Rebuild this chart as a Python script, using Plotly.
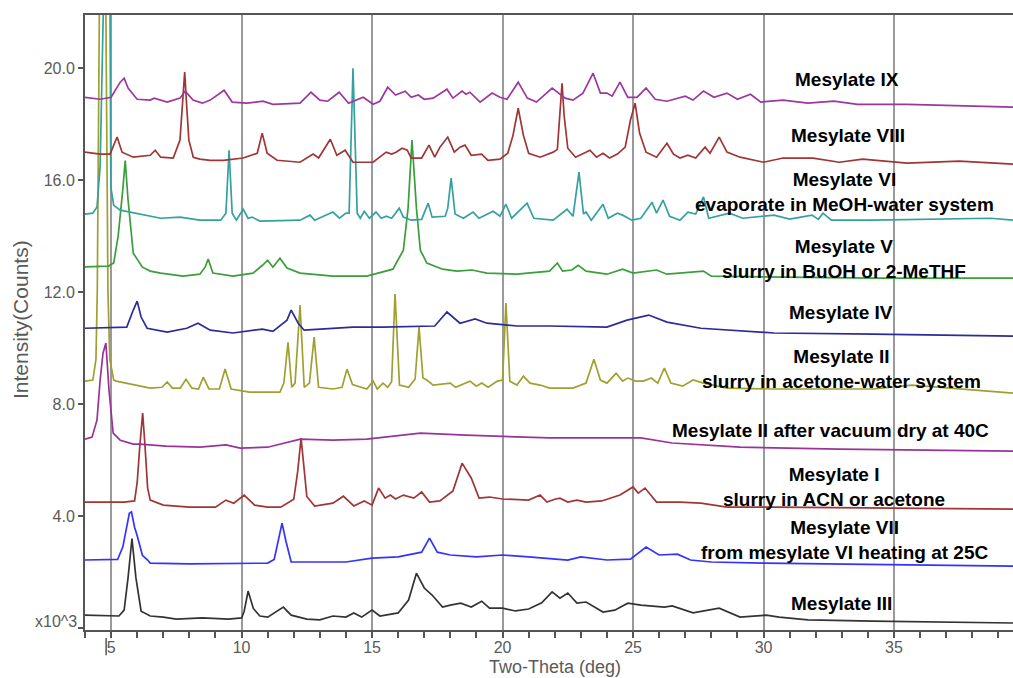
import plotly.graph_objects as go

# ---- data: key vertices (2-theta in deg, intensity in 10^3 counts)
iii_x = [4.0, 5.3, 5.5, 5.65, 5.8, 5.95, 6.15, 6.5, 7.0, 7.5, 8.5, 9.5, 10.0, 10.1, 10.25, 10.45, 10.7, 11.0,
         11.6, 11.9, 12.5, 13.0, 13.5, 14.0, 14.3, 14.6, 15.0, 15.3, 16.0, 16.4, 16.7, 17.0, 17.3, 17.7, 18.0,
         18.4, 18.8, 19.2, 19.5, 20.0, 20.5, 21.0, 21.5, 21.9, 22.2, 22.5, 22.85, 23.2, 23.85, 24.3, 24.8, 25.3,
         26.2, 26.5, 27.3, 28.3, 29.1, 30.1, 30.6, 31.7, 34.2, 39.56]
iii_y = [0.46, 0.43, 0.64, 1.8, 3.2, 1.8, 0.6, 0.43, 0.39, 0.32, 0.36, 0.32, 0.36, 0.6, 1.32, 0.7, 0.43, 0.39,
         0.75, 0.46, 0.32, 0.29, 0.43, 0.39, 0.54, 0.39, 0.64, 0.43, 0.54, 1.0, 1.96, 1.43, 1.18, 0.75, 0.82,
         0.89, 0.75, 0.96, 0.71, 0.71, 0.61, 0.68, 0.9, 1.29, 1.07, 1.25, 0.89, 0.93, 0.57, 0.64, 0.89, 0.82,
         0.75, 0.79, 0.54, 0.71, 0.39, 0.46, 0.39, 0.29, 0.25, 0.18]

vii_x = [4.0, 5.25, 5.45, 5.55, 5.7, 5.78, 5.9, 6.0, 6.2, 6.4, 6.5, 8.0, 10.0, 11.0, 11.25, 11.4, 11.55, 11.7,
         11.9, 12.5, 14.0, 15.0, 16.0, 16.9, 17.2, 17.5, 18.0, 19.0, 20.0, 21.0, 22.5, 23.0, 24.0, 24.9, 25.5,
         26.0, 26.7, 27.2, 28.0, 30.0, 33.0, 39.56]
vii_y = [2.43, 2.45, 2.9, 3.4, 4.1, 4.15, 3.6, 3.3, 2.6, 2.43, 2.32, 2.29, 2.32, 2.32, 2.45, 3.1, 3.75, 3.1,
         2.36, 2.36, 2.36, 2.5, 2.54, 2.71, 3.21, 2.71, 2.61, 2.54, 2.61, 2.54, 2.43, 2.54, 2.43, 2.46, 2.89,
         2.61, 2.64, 2.43, 2.36, 2.32, 2.29, 2.21]

i_x = [4.0, 5.5, 5.9, 6.0, 6.1, 6.21, 6.3, 6.4, 6.5, 6.8, 7.0, 8.0, 9.0, 9.4, 9.7, 10.1, 10.5, 11.0, 11.5,
       12.0, 12.15, 12.28, 12.4, 12.5, 12.8, 13.5, 13.9, 14.3, 14.7, 15.0, 15.25, 15.5, 15.7, 15.9, 16.2, 16.6,
       16.9, 17.2, 17.6, 18.1, 18.45, 18.8, 19.1, 19.5, 20.0, 21.0, 21.44, 21.7, 22.0, 22.2, 22.5, 22.85, 23.2,
       23.8, 24.5, 25.0, 25.2, 25.46, 25.9, 26.8, 27.6, 28.6, 30.4, 34.2, 39.56]
i_y = [4.5, 4.5, 4.54, 5.2, 6.5, 7.68, 6.5, 5.0, 4.57, 4.46, 4.39, 4.32, 4.32, 4.57, 4.46, 4.75, 4.39, 4.32, 4.32,
       4.6, 5.6, 6.79, 5.6, 4.7, 4.36, 4.46, 4.71, 4.36, 4.54, 4.39, 5.0, 4.64, 4.75, 4.61, 4.75, 4.64,
       4.86, 4.5, 4.54, 4.9, 5.89, 5.36, 4.64, 4.68, 4.61, 4.57, 4.75, 4.5, 4.6, 4.64, 4.5, 4.57, 4.5,
       4.54, 4.75, 5.04, 4.82, 5.0, 4.5, 4.5, 4.46, 4.32, 4.32, 4.29, 4.25]

iivac_x = [4.0, 4.27, 4.46, 4.58, 4.69, 4.8, 4.92, 5.08, 5.35, 5.85, 6.1, 7.1, 8.4, 9.4, 9.95, 11.0, 12.25, 13.5,
           14.8, 16.1, 16.85, 18.6, 19.9, 21.8, 25.3, 26.5, 29.1, 32.9, 39.56]
iivac_y = [6.75, 6.82, 7.43, 8.86, 9.82, 10.18, 8.5, 6.96, 6.71, 6.57, 6.57, 6.5, 6.46, 6.54, 6.43, 6.46, 6.75, 6.71,
           6.75, 6.89, 6.96, 6.89, 6.86, 6.79, 6.79, 6.61, 6.46, 6.39, 6.32]

ii_x = [4.0, 4.3, 4.42, 4.47, 4.55, 4.68, 4.8, 4.88, 4.95, 5.1, 5.2, 6.5, 6.95, 7.15, 7.35, 7.65, 7.87, 8.1, 8.35,
        8.53, 8.75, 9.15, 9.37, 9.6, 10.3, 11.47, 11.62, 11.78, 11.92, 12.05, 12.24, 12.4, 12.6, 12.78, 12.95,
        13.5, 13.85, 14.04, 14.25, 14.8, 15.04, 15.2, 15.42, 15.6, 15.75, 15.88, 16.05, 16.4, 16.65, 16.8,
        16.95, 17.1, 17.34, 18.0, 18.2, 18.75, 19.0, 19.2, 19.45, 19.8, 20.0, 20.13, 20.28, 20.55, 20.8, 21.05,
        21.44, 21.8, 22.7, 23.2, 23.5, 23.75, 24.0, 24.35, 24.6, 24.8, 25.1, 25.4, 25.7, 25.95, 26.2, 26.45,
        26.9, 27.3, 27.7, 28.6, 30.4, 34.2, 35.7, 37.3, 39.56]
ii_y = [8.82, 8.86, 9.6, 12.0, 22.0, 40.0, 22.0, 12.0, 9.6, 8.86, 8.82, 8.57, 8.6, 8.79, 8.57, 8.57, 8.89, 8.57, 8.54,
        8.96, 8.54, 8.54, 9.25, 8.54, 8.43, 8.43, 8.75, 10.21, 8.6, 8.75, 11.54, 8.6, 8.75, 10.39, 8.6,
        8.54, 8.6, 9.25, 8.7, 8.54, 8.82, 8.54, 8.75, 8.6, 8.8, 11.93, 8.68, 8.6, 8.9, 10.75,
        8.93, 8.86, 8.68, 8.75, 8.6, 8.82, 8.64, 8.75, 8.6, 8.82, 8.86, 11.61, 8.82, 8.68, 9.0, 8.75,
        8.68, 8.57, 8.57, 8.75, 9.6, 8.86, 8.75, 9.1, 8.82, 8.93, 8.82, 8.82, 8.93, 8.75, 9.29, 8.75,
        8.64, 8.86, 8.75, 8.57, 8.54, 8.54, 8.68, 8.57, 8.39]

iv_x = [4.0, 5.6, 5.85, 6.0, 6.15, 6.38, 7.15, 7.9, 8.33, 8.8, 9.67, 10.8, 11.2, 11.74, 11.9, 12.17, 12.4, 13.5,
        14.27, 15.4, 16.7, 17.4, 17.87, 18.37, 18.95, 19.4, 20.56, 21.8, 24.0, 24.77, 25.6, 26.3, 27.6, 30.4,
        34.2, 39.56]
iv_y = [10.71, 10.75, 11.36, 11.68, 11.11, 10.71, 10.57, 10.71, 10.89, 10.64, 10.54, 10.68, 10.6, 11.0, 11.36,
        10.89, 10.64, 10.71, 10.75, 10.75, 10.79, 10.79, 11.29, 10.89, 11.04, 10.89, 10.79, 10.79, 10.75, 11.0,
        11.18, 10.93, 10.71, 10.54, 10.5, 10.43]

v_x = [4.0, 4.9, 5.1, 5.27, 5.45, 5.54, 5.65, 5.85, 6.2, 6.5, 6.9, 7.76, 8.4, 8.6, 8.72, 8.9, 9.67, 10.44, 10.8,
       11.0, 11.2, 11.47, 11.74, 12.24, 13.5, 14.8, 15.8, 16.2, 16.38, 16.53, 16.7, 16.85, 17.1, 17.7, 18.25,
       18.83, 19.4, 20.55, 21.8, 22.1, 22.3, 22.65, 22.9, 23.2, 24.0, 24.6, 25.0, 25.9, 26.3, 27.7, 28.0, 30.4,
       34.2, 39.56]
v_y = [12.9, 12.93, 13.04, 14.0, 15.68, 16.7, 15.29, 13.39, 12.89, 12.75, 12.68, 12.57, 12.64, 12.89, 13.18,
       12.68, 12.57, 12.68, 12.96, 13.14, 12.89, 13.21, 12.86, 12.68, 12.57, 12.57, 12.82, 13.5, 15.0, 17.43,
       15.0, 13.5, 13.04, 12.82, 12.75, 12.79, 12.68, 12.64, 12.75, 13.04, 12.75, 12.79, 12.96, 12.75, 12.64,
       12.82, 12.68, 12.79, 12.64, 12.75, 12.57, 12.54, 12.5, 12.5]

vi_x = [4.0, 4.3, 4.46, 4.58, 4.7, 4.83, 4.96, 4.99, 5.1, 5.35, 6.9, 7.64, 8.4, 9.2, 9.4, 9.52, 9.64, 9.8, 10.06,
        10.25, 10.4, 10.7, 12.24, 12.62, 12.8, 13.5, 13.75, 14.0, 14.12, 14.27, 14.43, 14.55, 14.7, 14.9, 15.15,
        15.35, 15.54, 15.75, 16.04, 16.2, 16.5, 16.9, 17.15, 17.3, 17.8, 17.9, 18.03, 18.18, 18.5, 18.87, 19.1,
        19.64, 19.9, 20.13, 20.35, 20.94, 21.2, 21.94, 22.47, 22.7, 22.93, 23.1, 23.2, 23.4, 23.85, 24.05, 24.4,
        24.6, 24.96, 25.3, 25.73, 25.9, 26.15, 26.4, 26.8, 27.1, 27.4, 27.7, 27.9, 28.7, 29.2, 30.4, 31.0,
        31.86, 32.1, 32.28, 32.6, 34.2, 38.7, 39.56]
vi_y = [14.79, 14.82, 15.04, 16.5, 22.0, 35.0, 22.0, 15.75, 15.1, 14.93, 14.64, 14.68, 14.57, 14.57, 14.82, 17.07,
        14.82, 14.57, 14.96, 14.64, 14.68, 14.54, 14.57, 14.75, 14.57, 14.86, 14.64, 14.82, 14.82, 20.0, 14.82,
        14.64, 14.89, 14.64, 14.86, 14.64, 14.71, 14.64, 15.0, 14.68, 14.57, 14.6, 15.18, 14.68, 14.71, 15.0,
        16.07, 14.79, 14.64, 14.86, 14.64, 14.89, 14.71, 15.14, 14.64, 15.18, 14.64, 14.57, 14.96, 14.71, 16.29,
        14.79, 14.86, 14.57, 15.14, 14.64, 14.82, 14.75, 14.57, 14.64, 15.21, 14.82, 15.29, 14.71, 14.57, 14.86,
        14.79, 15.4, 14.64, 14.82, 14.64, 14.75, 14.61, 14.75, 14.6, 14.82, 14.57, 14.57, 14.64, 14.57]

viii_x = [4.0, 4.58, 4.96, 5.15, 5.23, 5.42, 5.85, 6.5, 6.69, 6.9, 7.38, 7.64, 7.72, 7.82, 7.9, 7.98, 8.15, 8.4,
          8.8, 9.3, 10.06, 10.6, 10.79, 10.98, 11.36, 12.24, 12.74, 12.95, 13.4, 13.65, 13.97, 14.27, 15.04,
          15.54, 15.75, 15.92, 16.15, 16.35, 16.5, 16.9, 17.18, 17.4, 17.6, 17.9, 18.15, 18.37, 18.56, 18.8,
          19.2, 19.44, 19.9, 20.2, 20.4, 20.6, 20.8, 21.0, 21.44, 21.94, 22.1, 22.2, 22.28, 22.36, 22.5, 22.8,
          23.35, 23.6, 23.85, 24.1, 24.4, 24.7, 24.9, 25.08, 25.25, 25.5, 25.9, 26.3, 26.55, 26.8, 27.1, 27.4,
          27.76, 27.95, 28.3, 28.6, 29.1, 30.0, 30.75, 31.9, 32.9, 33.8, 35.5, 37.5, 39.56]
viii_y = [17.0, 16.93, 16.93, 17.32, 17.54, 17.0, 16.82, 16.89, 17.07, 16.82, 16.79, 17.43, 18.6, 19.86, 18.6,
          17.43, 16.82, 16.75, 16.71, 16.71, 16.79, 16.96, 17.68, 16.96, 16.71, 16.64, 16.93, 16.79, 17.46,
          16.89, 17.07, 16.64, 16.64, 17.0, 16.93, 17.0, 17.14, 17.07, 16.79, 16.79, 17.25, 16.82, 17.18, 17.54,
          17.0, 17.18, 17.25, 16.89, 16.93, 16.71, 16.75, 16.96, 17.6, 18.57, 17.6, 16.96, 16.82, 17.0, 17.1,
          18.3, 19.46, 18.3, 17.14, 16.82, 17.07, 16.82, 16.96, 16.79, 16.93, 17.18, 18.14, 18.75, 17.68, 17.0,
          16.82, 17.32, 16.93, 16.79, 16.89, 16.79, 17.18, 16.96, 17.54, 17.0, 16.82, 16.64, 16.79, 16.79,
          16.64, 16.75, 16.61, 16.68, 16.57]

ix_x = [4.0, 4.58, 5.0, 5.35, 5.5, 5.65, 6.0, 6.5, 6.65, 7.15, 7.64, 7.84, 8.14, 8.5, 8.8, 9.33, 9.64, 10.2,
        10.82, 11.2, 12.24, 12.66, 13.0, 13.3, 13.74, 14.1, 14.66, 15.04, 15.3, 15.6, 15.9, 16.27, 16.5, 16.77,
        17.0, 17.34, 17.87, 18.1, 18.45, 18.6, 18.75, 19.14, 19.6, 19.9, 20.17, 20.6, 20.95, 21.3, 21.9, 22.4,
        22.7, 23.08, 23.47, 23.75, 24.0, 24.2, 24.5, 24.8, 25.15, 25.5, 25.85, 26.3, 27.0, 27.3, 27.7, 28.1,
        28.6, 29.0, 29.5, 29.9, 30.75, 31.7, 32.7, 33.6, 35.5, 38.0, 39.56]
ix_y = [18.96, 18.89, 18.96, 19.5, 19.64, 19.29, 18.89, 18.86, 18.93, 18.79, 18.93, 19.18, 18.86, 18.75, 18.86,
        19.21, 18.79, 18.75, 18.82, 18.71, 18.75, 19.14, 18.86, 18.82, 19.14, 18.75, 18.96, 18.71, 18.82, 19.32,
        19.04, 19.18, 18.96, 19.04, 18.89, 18.93, 19.25, 18.93, 19.18, 19.07, 19.14, 18.79, 19.11, 18.96, 18.89,
        19.5, 18.93, 18.79, 19.29, 18.93, 18.86, 19.11, 19.82, 19.11, 19.11, 19.0, 19.5, 18.96, 18.96, 19.29,
        18.89, 18.82, 19.0, 18.86, 19.18, 18.96, 19.11, 18.89, 19.07, 18.79, 18.86, 18.75, 18.82, 18.71, 18.71,
        18.64, 18.61]

labels = ["Mesylate III", "Mesylate VII<br>from mesylate VI heating at 25C", "Mesylate I<br>slurry in ACN or acetone",
          "Mesylate II after vacuum dry at 40C", "Mesylate II<br>slurry in acetone-water system", "Mesylate IV",
          "Mesylate V<br>slurry in BuOH or 2-MeTHF", "Mesylate VI<br>evaporate in MeOH-water system",
          "Mesylate VIII", "Mesylate IX"]
label_x = [32.97, 33.12, 32.7, 32.55, 33.0, 32.97, 33.08, 33.12, 33.24, 33.2]
label_y = [0.89, 3.14, 5.05, 7.07, 9.27, 11.29, 13.2, 15.59, 17.61, 19.61]

x_ticks = [5, 10, 15, 20, 25, 30, 35]
y_ticks = [0, 4, 8, 12, 16, 20]
y_ticktext = ["", "4.0", "8.0", "12.0", "16.0", "20.0"]
y_unit_text = "x10^3"

# ---- styling
series = [
    (iii_x, iii_y, "#333333"),
    (vii_x, vii_y, "#3333ff"),
    (i_x, i_y, "#a03535"),
    (iivac_x, iivac_y, "#993399"),
    (ii_x, ii_y, "#a0a030"),
    (iv_x, iv_y, "#2b2b99"),
    (v_x, v_y, "#3a9e3a"),
    (vi_x, vi_y, "#35a0a0"),
    (viii_x, viii_y, "#a03535"),
    (ix_x, ix_y, "#9b379f"),
]

fig = go.Figure()
for (xs, ys, col), name in zip(series, labels):
    fig.add_trace(go.Scatter(x=xs, y=ys, mode="lines", name=name.split("<br>")[0],
                             line=dict(color=col, width=1.7), hoverinfo="skip"))

for txt, ax, ay in zip(labels, label_x, label_y):
    fig.add_annotation(x=ax, y=ay, xref="x", yref="y", text="<b>" + txt + "</b>", showarrow=False,
                       font=dict(family="Arial, Liberation Sans", size=19, color="#000000"),
                       xanchor="center", yanchor="middle", align="center")

axis_font = dict(family="Arial, Liberation Sans", size=16, color="#5a5a5a")
fig.add_annotation(text="Intensity(Counts)", xref="paper", yref="paper", x=-0.07, y=0.504, textangle=-90,
                   showarrow=False, font=dict(family="Arial, Liberation Sans", size=21, color="#5a5a5a"),
                   xanchor="center", yanchor="middle")
fig.add_annotation(text="Two-Theta (deg)", xref="paper", yref="paper", x=0.506, y=-0.06,
                   showarrow=False, font=dict(family="Arial, Liberation Sans", size=18, color="#5a5a5a"),
                   xanchor="center", yanchor="middle")
fig.add_annotation(text=y_unit_text, xref="paper", yref="y", x=-0.007, y=0.25, xanchor="right",
                   yanchor="middle", showarrow=False, font=axis_font)

fig.add_shape(type="line", xref="x", yref="paper", x0=4.81, x1=4.81, y0=-0.013, y1=-0.041,
              line=dict(color="#555555", width=1.5))

fig.update_layout(
    width=1013, height=678,
    margin=dict(l=85, r=0, t=15, b=48),
    paper_bgcolor="white", plot_bgcolor="white",
    showlegend=False,
    xaxis=dict(range=[4.0, 39.56], tickvals=x_ticks, showgrid=True, gridcolor="#9a9a9a", gridwidth=1.5,
               showline=True, linecolor="#555555", linewidth=2, mirror=True, zeroline=False,
               ticks="outside", ticklen=6, tickcolor="#555555", tickwidth=1.5, tickfont=axis_font,
               ticklabelstandoff=-4,
               minor=dict(dtick=1, tick0=0, ticks="outside", ticklen=6, tickcolor="#555555", tickwidth=1.5,
                          showgrid=False)),
    yaxis=dict(range=[-0.07, 21.9], tickvals=y_ticks, ticktext=y_ticktext, showgrid=False,
               showline=True, linecolor="#555555", linewidth=2, zeroline=False,
               ticks="outside", ticklen=5, tickcolor="#555555", tickwidth=1.5, tickfont=axis_font),
)

fig.write_html("out.html", config={"displayModeBar": False},
               post_script="document.body.style.margin='0';document.body.style.overflow='hidden';")
